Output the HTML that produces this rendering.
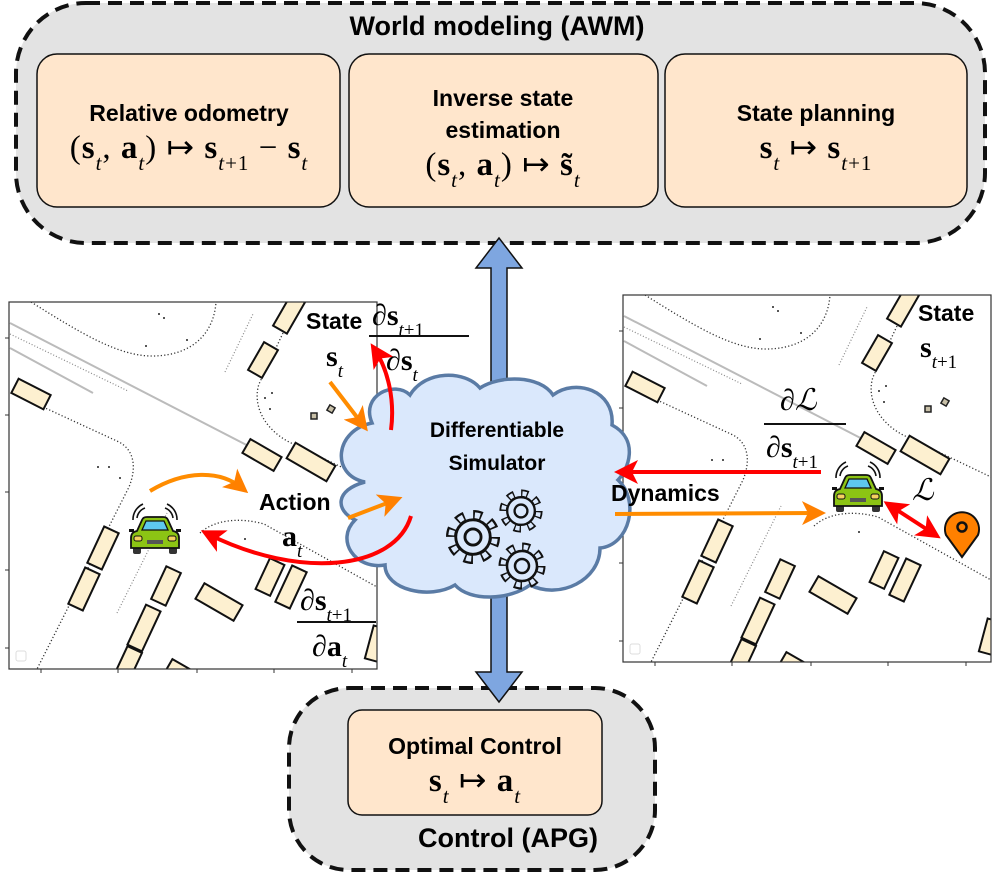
<!DOCTYPE html>
<html><head><meta charset="utf-8"><style>
html,body{margin:0;padding:0;background:#fff;}
svg{display:block;}
text{font-family:"Liberation Sans",sans-serif;}
.m{font-family:"Liberation Serif",serif;}
.sb{font-style:italic;font-size:19px;}
.big .sb{font-size:21px;}
</style></head><body>
<svg width="996" height="876" viewBox="0 0 996 876" xmlns="http://www.w3.org/2000/svg">
<defs>
<clipPath id="mc"><rect x="0" y="0" width="368" height="367"/></clipPath>
<g id="map">
  <rect x="0" y="0" width="368" height="367" fill="#fff"/>
  <g clip-path="url(#mc)">
  <g stroke="#bbb" stroke-width="2" fill="none">
    <line x1="1" y1="21" x2="253" y2="151"/>
    <line x1="1" y1="46" x2="84" y2="91"/>
  </g>
  <g stroke="#888" stroke-width="1.2" fill="none" stroke-dasharray="1 2">
    <line x1="1" y1="32" x2="119" y2="89"/>
    <line x1="216" y1="70" x2="244" y2="12"/>
    <line x1="108" y1="311" x2="158" y2="211"/>
  </g>
  <g stroke="#333" stroke-width="1.3" fill="none" stroke-dasharray="1.2 2.2">
    <path d="M22 0 C70 30 110 55 145 54 C185 53 205 30 207 0"/>
    <path d="M34 105 L110 140 C125 148 128 165 120 185 L28 367"/>
    <path d="M191 231 C205 218 230 215 255 222 L368 285"/>
    <path d="M274 31 L250 82 C244 100 252 125 280 140 L368 182"/>
  </g>
  <g fill="#222"><circle cx="150" cy="12" r="1"/><circle cx="155" cy="16" r="1"/><circle cx="137" cy="44" r="1"/><circle cx="178" cy="38" r="1"/><circle cx="256" cy="96" r="1"/><circle cx="263" cy="91" r="1"/><circle cx="261" cy="107" r="1"/><circle cx="89" cy="165" r="1"/><circle cx="100" cy="165" r="1"/><circle cx="111" cy="176" r="1"/><circle cx="236" cy="237" r="1"/></g>
  <g fill="#c8c0a8" stroke="#222" stroke-width="1.5"><rect x="302" y="111" width="6" height="6"/><rect x="319" y="104" width="6" height="6" transform="rotate(30 322 107)"/></g>
  <g fill="#fdf0d0" stroke="#111" stroke-width="2">
    <rect x="-8" y="-18" width="16" height="36" transform="translate(280 12) rotate(30)"/>
    <rect x="-8" y="-16" width="16" height="32" transform="translate(254 58) rotate(30)"/>
    <rect x="-18" y="-8" width="36" height="16" transform="translate(22 92) rotate(27)"/>
    <rect x="-18" y="-8" width="36" height="16" transform="translate(253 153) rotate(30)"/>
    <rect x="-23" y="-9" width="46" height="18" transform="translate(302 160) rotate(30)"/>
    <rect x="-8" y="-20" width="16" height="40" transform="translate(94 246) rotate(25)"/>
    <rect x="-8" y="-20" width="16" height="40" transform="translate(75 287) rotate(25)"/>
    <rect x="-8" y="-18" width="16" height="36" transform="translate(157 284) rotate(25)"/>
    <rect x="-8" y="-22" width="16" height="44" transform="translate(135 326) rotate(25)"/>
    <rect x="-8" y="-16" width="16" height="32" transform="translate(119 362) rotate(25)"/>
    <rect x="-8" y="-17" width="16" height="34" transform="translate(261 275) rotate(25)"/>
    <rect x="-8" y="-20" width="16" height="40" transform="translate(282 285) rotate(25)"/>
    <rect x="-22" y="-9" width="44" height="18" transform="translate(210 300) rotate(30)"/>
    <rect x="-18" y="-8" width="36" height="16" transform="translate(175 373) rotate(30)"/>
    <rect x="-8" y="-17" width="16" height="34" transform="translate(368 342) rotate(15)"/>
  </g>
  </g>
  <rect x="7" y="349" width="10" height="10" rx="2" fill="none" stroke="#ddd" stroke-width="1"/>
  <rect x="0" y="0" width="368" height="367" fill="none" stroke="#333" stroke-width="1.2"/>
  <g stroke="#333" stroke-width="1"><line x1="-4" y1="36" x2="0" y2="36"/><line x1="-4" y1="113" x2="0" y2="113"/><line x1="-4" y1="190" x2="0" y2="190"/><line x1="-4" y1="268" x2="0" y2="268"/><line x1="-4" y1="346" x2="0" y2="346"/>
  <line x1="32" y1="367" x2="32" y2="371"/><line x1="109" y1="367" x2="109" y2="371"/><line x1="188" y1="367" x2="188" y2="371"/><line x1="265" y1="367" x2="265" y2="371"/><line x1="343" y1="367" x2="343" y2="371"/></g>
</g>
<g id="car">
  <g fill="none" stroke="#111" stroke-width="1.6"><path d="M-18 -8 A12 12 0 0 1 -10 -18"/><path d="M-22 -6 A17 17 0 0 1 -12 -22"/><path d="M18 -8 A12 12 0 0 0 10 -18"/><path d="M22 -6 A17 17 0 0 0 12 -22"/></g>
  <rect x="-22" y="20" width="8" height="8" rx="2" fill="#333"/><rect x="14" y="20" width="8" height="8" rx="2" fill="#333"/>
  <path d="M-18 5 L-13 -6 Q-12 -9 -8 -9 L8 -9 Q12 -9 13 -6 L18 5 Q24 6 24 12 L24 22 L-24 22 L-24 12 Q-24 6 -18 5Z" fill="#8cc414" stroke="#111" stroke-width="1.8"/>
  <path d="M-13 4 L-9 -5 L9 -5 L13 4Z" fill="#5ec8f0" stroke="#111" stroke-width="1.3"/>
  <rect x="-26" y="3" width="5" height="3" fill="#111"/><rect x="21" y="3" width="5" height="3" fill="#111"/>
  <rect x="-21" y="10" width="8" height="5" rx="2" fill="#f5d060" stroke="#111"/><rect x="13" y="10" width="8" height="5" rx="2" fill="#f5d060" stroke="#111"/>
  <rect x="-8" y="14" width="16" height="4" fill="#555"/>
</g>
<g id="gear">
  <circle r="19" fill="none" stroke="#111" stroke-width="9" stroke-dasharray="7.46 7.46"/>
  <circle r="19" fill="none" stroke="#dae8fc" stroke-width="5" stroke-dasharray="4.5 10.42" stroke-dashoffset="-1.48"/>
  <circle r="15" fill="#dae8fc" stroke="#111" stroke-width="2.5"/>
  <circle r="7" fill="none" stroke="#111" stroke-width="2.5"/>
</g>
<marker id="ho" markerWidth="6" markerHeight="6" refX="4" refY="3" orient="auto" markerUnits="strokeWidth"><path d="M0 0 L6 3 L0 6 L1.5 3Z" fill="#ff8000"/></marker>
<marker id="hr" markerWidth="6" markerHeight="6" refX="4" refY="3" orient="auto" markerUnits="strokeWidth"><path d="M0 0 L6 3 L0 6 L1.5 3Z" fill="#ff0000"/></marker>
<marker id="hrs" markerWidth="6" markerHeight="6" refX="2" refY="3" orient="auto-start-reverse" markerUnits="strokeWidth"><path d="M0 0 L6 3 L0 6 L1.5 3Z" fill="#ff0000"/></marker>
</defs>

<rect x="16" y="3" width="969" height="240" rx="70" fill="#e3e3e3" stroke="#111" stroke-width="4" stroke-dasharray="14 8"/>
<text x="497" y="35" font-size="27" font-weight="bold" text-anchor="middle">World modeling (AWM)</text>
<g fill="#ffe6cc" stroke="#111" stroke-width="1.5">
<rect x="37" y="54" width="303" height="153" rx="20"/>
<rect x="349" y="54" width="309" height="153" rx="20"/>
<rect x="665" y="54" width="302" height="153" rx="20"/>
</g>
<g font-size="23" font-weight="bold" text-anchor="middle">
<text x="189" y="121">Relative odometry</text>
<text x="503" y="106">Inverse state</text>
<text x="503" y="138">estimation</text>
<text x="816" y="121">State planning</text>
</g>
<g font-size="33" text-anchor="middle" class="big" letter-spacing="1">
<text x="189" y="158" class="m">(<tspan font-weight="bold">s</tspan><tspan class="sb" baseline-shift="sub">t</tspan>, <tspan font-weight="bold">a</tspan><tspan class="sb" baseline-shift="sub">t</tspan>) ↦ <tspan font-weight="bold">s</tspan><tspan class="sb" baseline-shift="sub">t<tspan font-style="normal">+1</tspan></tspan> − <tspan font-weight="bold">s</tspan><tspan class="sb" baseline-shift="sub">t</tspan></text>
<text x="503" y="175" class="m">(<tspan font-weight="bold">s</tspan><tspan class="sb" baseline-shift="sub">t</tspan>, <tspan font-weight="bold">a</tspan><tspan class="sb" baseline-shift="sub">t</tspan>) ↦ <tspan font-weight="bold">s̃</tspan><tspan class="sb" baseline-shift="sub">t</tspan></text>
<text x="816" y="158" class="m"><tspan font-weight="bold">s</tspan><tspan class="sb" baseline-shift="sub">t</tspan> ↦ <tspan font-weight="bold">s</tspan><tspan class="sb" baseline-shift="sub">t<tspan font-style="normal">+1</tspan></tspan></text>
</g>

<use href="#map" x="9" y="302"/>
<use href="#map" x="623" y="295"/>

<rect x="289" y="688" width="366" height="182" rx="60" fill="#e3e3e3" stroke="#111" stroke-width="4" stroke-dasharray="14 8"/>
<rect x="348" y="710" width="254" height="105" rx="14" fill="#ffe6cc" stroke="#111" stroke-width="1.5"/>
<text x="475" y="754" font-size="23" font-weight="bold" text-anchor="middle">Optimal Control</text>
<text x="475" y="791" class="m big" font-size="33" text-anchor="middle" letter-spacing="1"><tspan font-weight="bold">s</tspan><tspan class="sb" baseline-shift="sub">t</tspan> ↦ <tspan font-weight="bold">a</tspan><tspan class="sb" baseline-shift="sub">t</tspan></text>
<text x="508" y="847" font-size="27" font-weight="bold" text-anchor="middle">Control (APG)</text>

<path d="M491 405 L491 268 L476 268 L499 238 L522 268 L507 268 L507 405Z" fill="#7ea6e0" stroke="#111" stroke-width="1.5"/>
<path d="M491 590 L491 672 L476 672 L499 702 L522 672 L507 672 L507 590Z" fill="#7ea6e0" stroke="#111" stroke-width="1.5"/>

<path d="M372 423 C360 395 395 380 410 395 C425 370 465 370 480 388 C500 375 540 375 553 395 C575 378 615 390 612 425 C640 440 628 470 618 480 C640 500 630 545 600 548 C600 580 560 600 530 585 C510 600 470 602 455 585 C430 600 385 590 385 565 C355 570 335 540 355 520 C335 510 335 490 365 482 C330 475 335 430 372 423Z" fill="#dae8fc" stroke="#5a7ba5" stroke-width="3.5"/>
<text x="497" y="437" font-size="21" font-weight="bold" text-anchor="middle">Differentiable</text>
<text x="497" y="470" font-size="21" font-weight="bold" text-anchor="middle">Simulator</text>
<g transform="translate(473 537) scale(1.15)"><use href="#gear"/></g>
<g transform="translate(521 511) scale(0.92)"><use href="#gear"/></g>
<g transform="translate(522 566) scale(1)"><use href="#gear"/></g>

<use href="#car" x="155" y="526"/>
<use href="#car" x="858" y="484"/>
<path d="M962 557 L946 535 A17 17 0 1 1 978 535Z" fill="#ff8000" stroke="#111" stroke-width="2"/>
<circle cx="962" cy="527" r="4.5" fill="none" stroke="#111" stroke-width="2.5"/>

<g fill="none" stroke-width="4">
<path d="M330 382 L363 425" stroke="#ff8c00" marker-end="url(#ho)"/>
<path d="M391 430 C395 400 388 370 375 350" stroke="#ff0000" marker-end="url(#hr)"/>
<path d="M150 491 C185 470 220 470 242 488" stroke="#ff8c00" marker-end="url(#ho)"/>
<path d="M348 518 L395 500" stroke="#ff8c00" marker-end="url(#ho)"/>
<path d="M411 516 C395 570 300 580 208 534" stroke="#ff0000" marker-end="url(#hr)"/>
<path d="M821 472 L622 472" stroke="#ff0000" marker-end="url(#hr)"/>
<path d="M615 514 L818 513" stroke="#ff8c00" marker-end="url(#ho)"/>
<path d="M897 510 L934 534" stroke="#ff0000" marker-end="url(#hr)" marker-start="url(#hrs)"/>
</g>

<g font-size="23" font-weight="bold">
<text x="306" y="329">State</text>
<text x="259" y="510">Action</text>
<text x="918" y="321">State</text>
<text x="611" y="501">Dynamics</text>
</g>
<g class="m" font-size="30">
<text x="326" y="366" class="m"><tspan font-weight="bold">s</tspan><tspan class="sb" baseline-shift="sub">t</tspan></text>
<text x="282" y="546" class="m"><tspan font-weight="bold">a</tspan><tspan class="sb" baseline-shift="sub">t</tspan></text>
<text x="920" y="357" class="m"><tspan font-weight="bold">s</tspan><tspan class="sb" baseline-shift="sub">t<tspan font-style="normal">+1</tspan></tspan></text>
<text x="372" y="325" class="m"><tspan font-style="italic">∂</tspan><tspan font-weight="bold">s</tspan><tspan class="sb" baseline-shift="sub">t<tspan font-style="normal">+1</tspan></tspan></text>
<text x="386" y="370" class="m"><tspan font-style="italic">∂</tspan><tspan font-weight="bold">s</tspan><tspan class="sb" baseline-shift="sub">t</tspan></text>
<text x="300" y="610" class="m"><tspan font-style="italic">∂</tspan><tspan font-weight="bold">s</tspan><tspan class="sb" baseline-shift="sub">t<tspan font-style="normal">+1</tspan></tspan></text>
<text x="312" y="656" class="m"><tspan font-style="italic">∂</tspan><tspan font-weight="bold">a</tspan><tspan class="sb" baseline-shift="sub">t</tspan></text>
<text x="780" y="410" class="m"><tspan font-style="italic">∂ℒ</tspan></text>
<text x="766" y="457" class="m"><tspan font-style="italic">∂</tspan><tspan font-weight="bold">s</tspan><tspan class="sb" baseline-shift="sub">t<tspan font-style="normal">+1</tspan></tspan></text>
<text x="912" y="500" class="m" font-style="italic">ℒ</text>
</g>
<g stroke="#111" stroke-width="2">
<line x1="369" y1="336" x2="469" y2="336"/>
<line x1="297" y1="622" x2="376" y2="622"/>
<line x1="764" y1="424" x2="846" y2="424"/>
</g>
</svg>
</body></html>
